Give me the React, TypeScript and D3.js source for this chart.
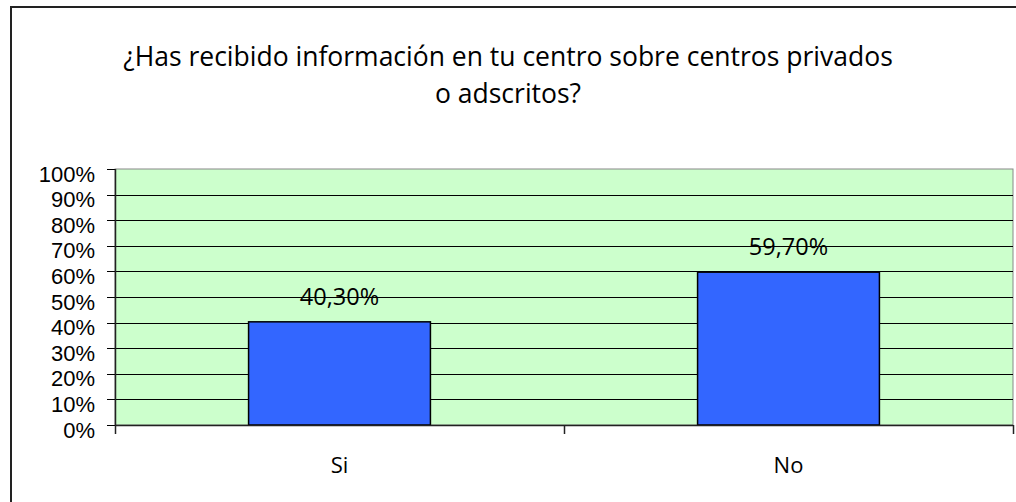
import React from "react";
import * as d3 from "d3";

const categories = ["Si", "No"];
const values = [40.3, 59.7];
const valueLabels = ["40,30%", "59,70%"];
const yTicks = [0, 10, 20, 30, 40, 50, 60, 70, 80, 90, 100];
const titleLines = [
  "¿Has recibido información en tu centro sobre centros privados",
  "o adscritos?",
];

export default function App() {
  const W = 1016;
  const H = 502;
  const left = 115;
  const right = 1013;
  const top = 169;
  const bottom = 425;
  const font = "'Open Sans', sans-serif";
  const tickFont = "'Liberation Sans', Arial, sans-serif";

  const x = d3.scaleBand<string>().domain(categories).range([left, right]).paddingInner(0.595).paddingOuter(0.2975);
  const xb = d3.scaleBand<string>().domain(categories).range([left, right]);
  const y = d3.scaleLinear().domain([0, 100]).range([bottom, top]);

  return (
    <svg width={W} height={H} style={{ position: "absolute", left: 0, top: 0, background: "#fff" }}>
      <rect x={11} y={7} width={1100} height={600} fill="#fff" stroke="#222" strokeWidth={2} />
      {titleLines.map((t, i) => (
        <text key={i} x={508} y={66 + i * 37} textAnchor="middle" fontFamily={font} fontSize={26.5} fill="#000">
          {t}
        </text>
      ))}
      <rect x={left} y={top} width={right - left} height={bottom - top} fill="#ccffcc" stroke="#888" strokeWidth={1} />
      {yTicks.filter((v) => v > 0 && v < 100).map((v) => (
        <line key={v} x1={left} x2={right} y1={Math.round(y(v)) + 0.5} y2={Math.round(y(v)) + 0.5} stroke="#000" strokeWidth={1} />
      ))}
      {yTicks.map((v) => (
        <g key={"t" + v}>
          <line x1={107} x2={left} y1={Math.round(y(v)) + 0.5} y2={Math.round(y(v)) + 0.5} stroke="#000" />
          <text x={95} y={y(v) + 12.5} textAnchor="end" fontFamily={tickFont} fontSize={22} fill="#000">
            {v}%
          </text>
        </g>
      ))}
      {categories.map((c, i) => (
        <g key={c}>
          <rect x={x(c)!} y={y(values[i])} width={x.bandwidth()} height={bottom - y(values[i])} fill="#3366ff" stroke="#000" strokeWidth={1.5} />
          <text x={x(c)! + x.bandwidth() / 2} y={y(values[i]) - 23} textAnchor="middle" dominantBaseline="middle" fontFamily={font} fontSize={23.5} fill="#000">
            {valueLabels[i]}
          </text>
          <text x={xb(c)! + xb.bandwidth() / 2} y={467} textAnchor="middle" dominantBaseline="middle" fontFamily={font} fontSize={22} fill="#000">
            {c}
          </text>
        </g>
      ))}
      <line x1={left + 0.5} x2={left + 0.5} y1={top} y2={bottom} stroke="#222" strokeWidth={1.5} />
      <line x1={left} x2={right} y1={bottom + 0.5} y2={bottom + 0.5} stroke="#222" strokeWidth={1.5} />
      {[left, left + xb.bandwidth(), right].map((tx, i) => (
        <line key={"x" + i} x1={Math.round(tx) + 0.5} x2={Math.round(tx) + 0.5} y1={bottom} y2={bottom + 9} stroke="#222" strokeWidth={1.5} />
      ))}
    </svg>
  );
}
